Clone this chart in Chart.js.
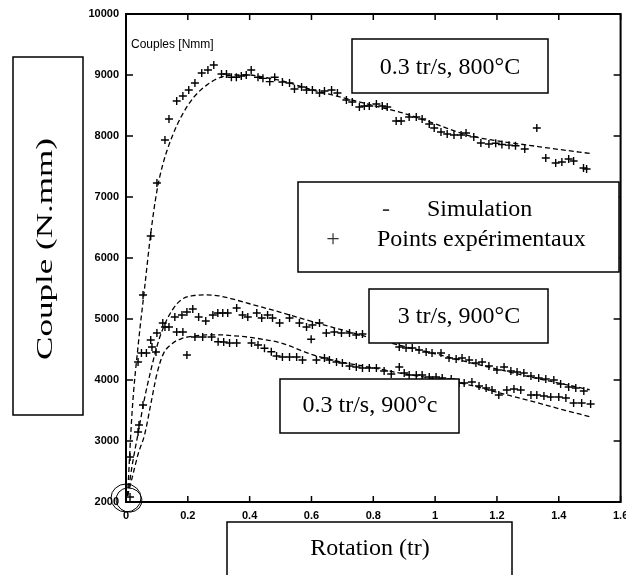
<!DOCTYPE html>
<html>
<head>
<meta charset="utf-8">
<script src="https://cdn.jsdelivr.net/npm/chart.js@4.4.1/dist/chart.umd.min.js"></script>
<style>
  body { margin: 0; background: #fff; }
  #wrap { width: 626px; height: 575px; position: relative; }
</style>
</head>
<body>
<div id="wrap"><canvas id="coupleChart" width="626" height="575"></canvas></div>
<script>
// axis ticks
const xTicks = [0, 0.2, 0.4, 0.6, 0.8, 1, 1.2, 1.4, 1.6];
const xTickLabels = ['0', '0.2', '0.4', '0.6', '0.8', '1', '1.2', '1.4', '1.6'];
const yTicks = [2000, 3000, 4000, 5000, 6000, 7000, 8000, 9000, 10000];

// simulated torque (dashed curves)
const simX   = [0.005, 0.02, 0.04, 0.06, 0.08, 0.1, 0.12, 0.15, 0.18, 0.22, 0.26, 0.3, 0.35, 0.4, 0.45, 0.5, 0.6, 0.7, 0.8, 0.9, 1.0, 1.1, 1.2, 1.3, 1.4, 1.5];
const sim800 = [2100, 3500, 4600, 5500, 6400, 7100, 7550, 8000, 8330, 8640, 8830, 8950, 9000, 9000, 8960, 8910, 8760, 8630, 8500, 8370, 8200, 8020, 7920, 7850, 7780, 7715];
const sim3   = [2100, 2600, 3150, 3700, 4150, 4550, 4850, 5150, 5320, 5385, 5395, 5380, 5320, 5250, 5180, 5110, 4960, 4820, 4680, 4550, 4430, 4300, 4180, 4060, 3950, 3840];
const sim03  = [2100, 2400, 2800, 3100, 3600, 4100, 4420, 4600, 4680, 4720, 4740, 4740, 4725, 4700, 4660, 4610, 4420, 4290, 4200, 4100, 4020, 3930, 3800, 3670, 3530, 3400];

// measured points, 0.3 tr/s 800°C
const exp800X = [0.039, 0.055, 0.08, 0.1, 0.126, 0.139, 0.164, 0.184, 0.203, 0.223, 0.245, 0.265, 0.284, 0.309, 0.325, 0.341, 0.357, 0.373, 0.389, 0.405, 0.427, 0.443, 0.465, 0.481, 0.506, 0.529, 0.545, 0.568, 0.584, 0.603, 0.626, 0.642, 0.665, 0.684, 0.713, 0.732, 0.755, 0.771, 0.787, 0.81, 0.829, 0.845, 0.874, 0.89, 0.916, 0.939, 0.958, 0.981, 0.997, 1.019, 1.039, 1.061, 1.084, 1.1, 1.125, 1.148, 1.174, 1.196, 1.216, 1.239, 1.26, 1.29, 1.329, 1.358, 1.39, 1.41, 1.432, 1.448, 1.48, 1.49];
const exp800Y = [4295, 5393, 6360, 7230, 7934, 8279, 8574, 8656, 8754, 8869, 9033, 9082, 9164, 9016, 9016, 8962, 8962, 8984, 9000, 9082, 8962, 8945, 8891, 8962, 8885, 8869, 8770, 8803, 8754, 8754, 8705, 8738, 8754, 8705, 8590, 8557, 8475, 8492, 8492, 8525, 8492, 8475, 8246, 8246, 8311, 8311, 8279, 8197, 8131, 8066, 8033, 8016, 8016, 8049, 7985, 7885, 7870, 7880, 7860, 7850, 7840, 7787, 8131, 7639, 7557, 7574, 7623, 7590, 7475, 7459];

// measured points, 3 tr/s 900°C
const exp3X = [0.013, 0.042, 0.05, 0.08, 0.1, 0.119, 0.139, 0.158, 0.181, 0.197, 0.216, 0.235, 0.258, 0.281, 0.297, 0.313, 0.329, 0.358, 0.377, 0.394, 0.423, 0.439, 0.458, 0.474, 0.497, 0.529, 0.561, 0.584, 0.599, 0.603, 0.626, 0.648, 0.674, 0.697, 0.723, 0.745, 0.765, 0.884, 0.906, 0.926, 0.948, 0.971, 0.99, 1.019, 1.045, 1.068, 1.087, 1.11, 1.132, 1.152, 1.174, 1.2, 1.223, 1.245, 1.265, 1.287, 1.31, 1.335, 1.358, 1.384, 1.406, 1.432, 1.455, 1.481];
const exp3Y = [2738, 3262, 4443, 4656, 4770, 4934, 4869, 5033, 5066, 5115, 5164, 5033, 4967, 5066, 5098, 5098, 5098, 5180, 5066, 5033, 5098, 5016, 5066, 5016, 4934, 5016, 4934, 4869, 4667, 4902, 4934, 4770, 4787, 4770, 4770, 4738, 4754, 4541, 4525, 4525, 4492, 4459, 4443, 4443, 4361, 4344, 4361, 4328, 4279, 4295, 4230, 4164, 4213, 4148, 4131, 4115, 4066, 4033, 4016, 4000, 3934, 3885, 3869, 3820];

// measured points, 0.3 tr/s 900°C
const exp03X = [0.013, 0.039, 0.055, 0.066, 0.084, 0.097, 0.126, 0.164, 0.184, 0.197, 0.223, 0.248, 0.277, 0.298, 0.316, 0.335, 0.358, 0.406, 0.427, 0.448, 0.47, 0.487, 0.506, 0.529, 0.552, 0.571, 0.616, 0.642, 0.658, 0.681, 0.7, 0.723, 0.745, 0.765, 0.787, 0.81, 0.835, 0.858, 0.884, 0.9, 0.916, 0.939, 0.958, 0.981, 1.003, 1.023, 1.052, 1.077, 1.094, 1.119, 1.142, 1.165, 1.184, 1.206, 1.232, 1.255, 1.277, 1.31, 1.329, 1.352, 1.374, 1.4, 1.423, 1.448, 1.474, 1.503];
const exp03Y = [2082, 3148, 3590, 4443, 4541, 4459, 4869, 4787, 4787, 4410, 4705, 4705, 4705, 4628, 4623, 4607, 4607, 4607, 4574, 4520, 4464, 4393, 4377, 4377, 4377, 4328, 4328, 4361, 4328, 4295, 4279, 4230, 4213, 4197, 4197, 4197, 4148, 4098, 4213, 4115, 4082, 4082, 4082, 4049, 4049, 4033, 4016, 3951, 3951, 3967, 3902, 3869, 3836, 3754, 3836, 3852, 3836, 3754, 3754, 3738, 3721, 3721, 3705, 3623, 3623, 3607];

function pts(xs, ys) {
  return xs.map((x, i) => ({ x: x, y: ys[i] }));
}

function simSet(ys) {
  return {
    data: pts(simX, ys),
    showLine: true,
    pointRadius: 0,
    borderColor: '#000',
    borderWidth: 1.3,
    borderDash: [5, 3],
    cubicInterpolationMode: 'monotone',
    fill: false
  };
}

function expSet(xs, ys) {
  return {
    data: pts(xs, ys),
    showLine: false,
    pointStyle: 'cross',
    pointRadius: 4,
    borderColor: '#000',
    borderWidth: 1.4
  };
}

const serif = '"Liberation Serif", "Times New Roman", serif';

// text boxes laid over the plot
const boxes = [
  { x: 352, y: 39,  w: 196, h: 54, text: '0.3 tr/s, 800°C', tx: 450, ty: 74 },
  { x: 369, y: 289, w: 179, h: 54, text: '3 tr/s, 900°C',   tx: 459, ty: 323 },
  { x: 280, y: 379, w: 179, h: 54, text: '0.3 tr/s, 900°c', tx: 370, ty: 412 }
];

const overlay = {
  id: 'overlay',
  afterDatasetsDraw(chart) {
    const ctx = chart.ctx;
    const a = chart.chartArea;
    const xs = chart.scales.x, ys = chart.scales.y;
    ctx.save();
    ctx.strokeStyle = '#000';
    ctx.fillStyle = '#000';

    // frame
    ctx.lineWidth = 2;
    ctx.strokeRect(a.left, a.top, a.right - a.left, a.bottom - a.top);

    // inward ticks on all four sides
    ctx.lineWidth = 1.5;
    ctx.beginPath();
    xTicks.forEach(v => {
      const px = xs.getPixelForValue(v);
      ctx.moveTo(px, a.bottom); ctx.lineTo(px, a.bottom - 6);
      ctx.moveTo(px, a.top);    ctx.lineTo(px, a.top + 6);
    });
    yTicks.forEach(v => {
      const py = ys.getPixelForValue(v);
      ctx.moveTo(a.left, py);  ctx.lineTo(a.left + 7, py);
      ctx.moveTo(a.right, py); ctx.lineTo(a.right - 7, py);
    });
    ctx.stroke();

    // hand circle at the origin
    const ox = xs.getPixelForValue(0), oy = ys.getPixelForValue(2000);
    ctx.lineWidth = 1;
    ctx.beginPath(); ctx.ellipse(ox, oy - 4, 15, 14, 0, 0, Math.PI * 2); ctx.stroke();
    ctx.beginPath(); ctx.ellipse(ox + 3, oy - 2, 13, 12, 0.3, 0, Math.PI * 2); ctx.stroke();

    // unit label inside the frame
    ctx.font = '12px "Liberation Sans", Arial, sans-serif';
    ctx.textAlign = 'left';
    ctx.textBaseline = 'alphabetic';
    ctx.fillText('Couples [Nmm]', a.left + 5, 48);

    // condition boxes
    ctx.font = '24px ' + serif;
    ctx.textAlign = 'center';
    boxes.forEach(b => {
      ctx.fillStyle = '#fff';
      ctx.fillRect(b.x, b.y, b.w, b.h);
      ctx.lineWidth = 1.5;
      ctx.strokeRect(b.x, b.y, b.w, b.h);
      ctx.fillStyle = '#000';
      ctx.fillText(b.text, b.tx, b.ty);
    });

    // legend box
    ctx.fillStyle = '#fff';
    ctx.fillRect(298, 182, 321, 90);
    ctx.strokeRect(298, 182, 321, 90);
    ctx.fillStyle = '#333';
    ctx.fillText('-', 386, 216);
    ctx.fillText('+', 333, 246);
    ctx.fillStyle = '#000';
    ctx.textAlign = 'left';
    ctx.fillText('Simulation', 427, 216);
    ctx.fillText('Points expérimentaux', 377, 246);

    // axis title boxes
    ctx.fillStyle = '#fff';
    ctx.fillRect(13, 57, 70, 358);
    ctx.strokeRect(13, 57, 70, 358);
    ctx.fillRect(227, 522, 285, 60);
    ctx.strokeRect(227, 522, 285, 60);
    ctx.fillStyle = '#000';
    ctx.textAlign = 'center';
    ctx.fillText('Rotation (tr)', 370, 555);
    ctx.save();
    ctx.translate(52, 249);
    ctx.rotate(-Math.PI / 2);
    const w = ctx.measureText('Couple (N.mm)').width;
    ctx.scale(222 / w, 1);
    ctx.fillText('Couple (N.mm)', 0, 0);
    ctx.restore();

    ctx.restore();
  }
};

function initChart() {
  const ctx = document.getElementById('coupleChart').getContext('2d');
  new Chart(ctx, {
    type: 'scatter',
    data: {
      datasets: [
        simSet(sim800),
        simSet(sim3),
        simSet(sim03),
        expSet(exp800X, exp800Y),
        expSet(exp3X, exp3Y),
        expSet(exp03X, exp03Y)
      ]
    },
    options: {
      responsive: false,
      animation: false,
      devicePixelRatio: 1,
      layout: { padding: { top: 14, right: 2, left: 0, bottom: 0 } },
      plugins: { legend: { display: false }, tooltip: { enabled: false } },
      scales: {
        x: {
          type: 'linear',
          min: 0,
          max: 1.6,
          grid: { display: false, drawTicks: false },
          border: { display: false },
          afterBuildTicks: s => { s.ticks = xTicks.map(v => ({ value: v })); },
          afterFit: s => { s.height = 73; s.paddingLeft = 0; s.paddingRight = 0; },
          ticks: {
            autoSkip: false,
            maxRotation: 0,
            padding: 7,
            color: '#000',
            font: { family: '"Liberation Sans", Arial, sans-serif', size: 11, weight: 'bold' },
            callback: (v, i) => xTickLabels[i]
          }
        },
        y: {
          type: 'linear',
          min: 2000,
          max: 10000,
          grid: { display: false, drawTicks: false },
          border: { display: false },
          afterBuildTicks: s => { s.ticks = yTicks.map(v => ({ value: v })); },
          afterFit: s => { s.width = 126; s.paddingTop = 0; s.paddingBottom = 0; },
          ticks: {
            autoSkip: false,
            padding: 7,
            color: '#000',
            font: { family: '"Liberation Sans", Arial, sans-serif', size: 11, weight: 'bold' },
            callback: v => String(v)
          }
        }
      }
    },
    plugins: [overlay]
  });
}

window.addEventListener('load', initChart);
</script>
</body>
</html>
